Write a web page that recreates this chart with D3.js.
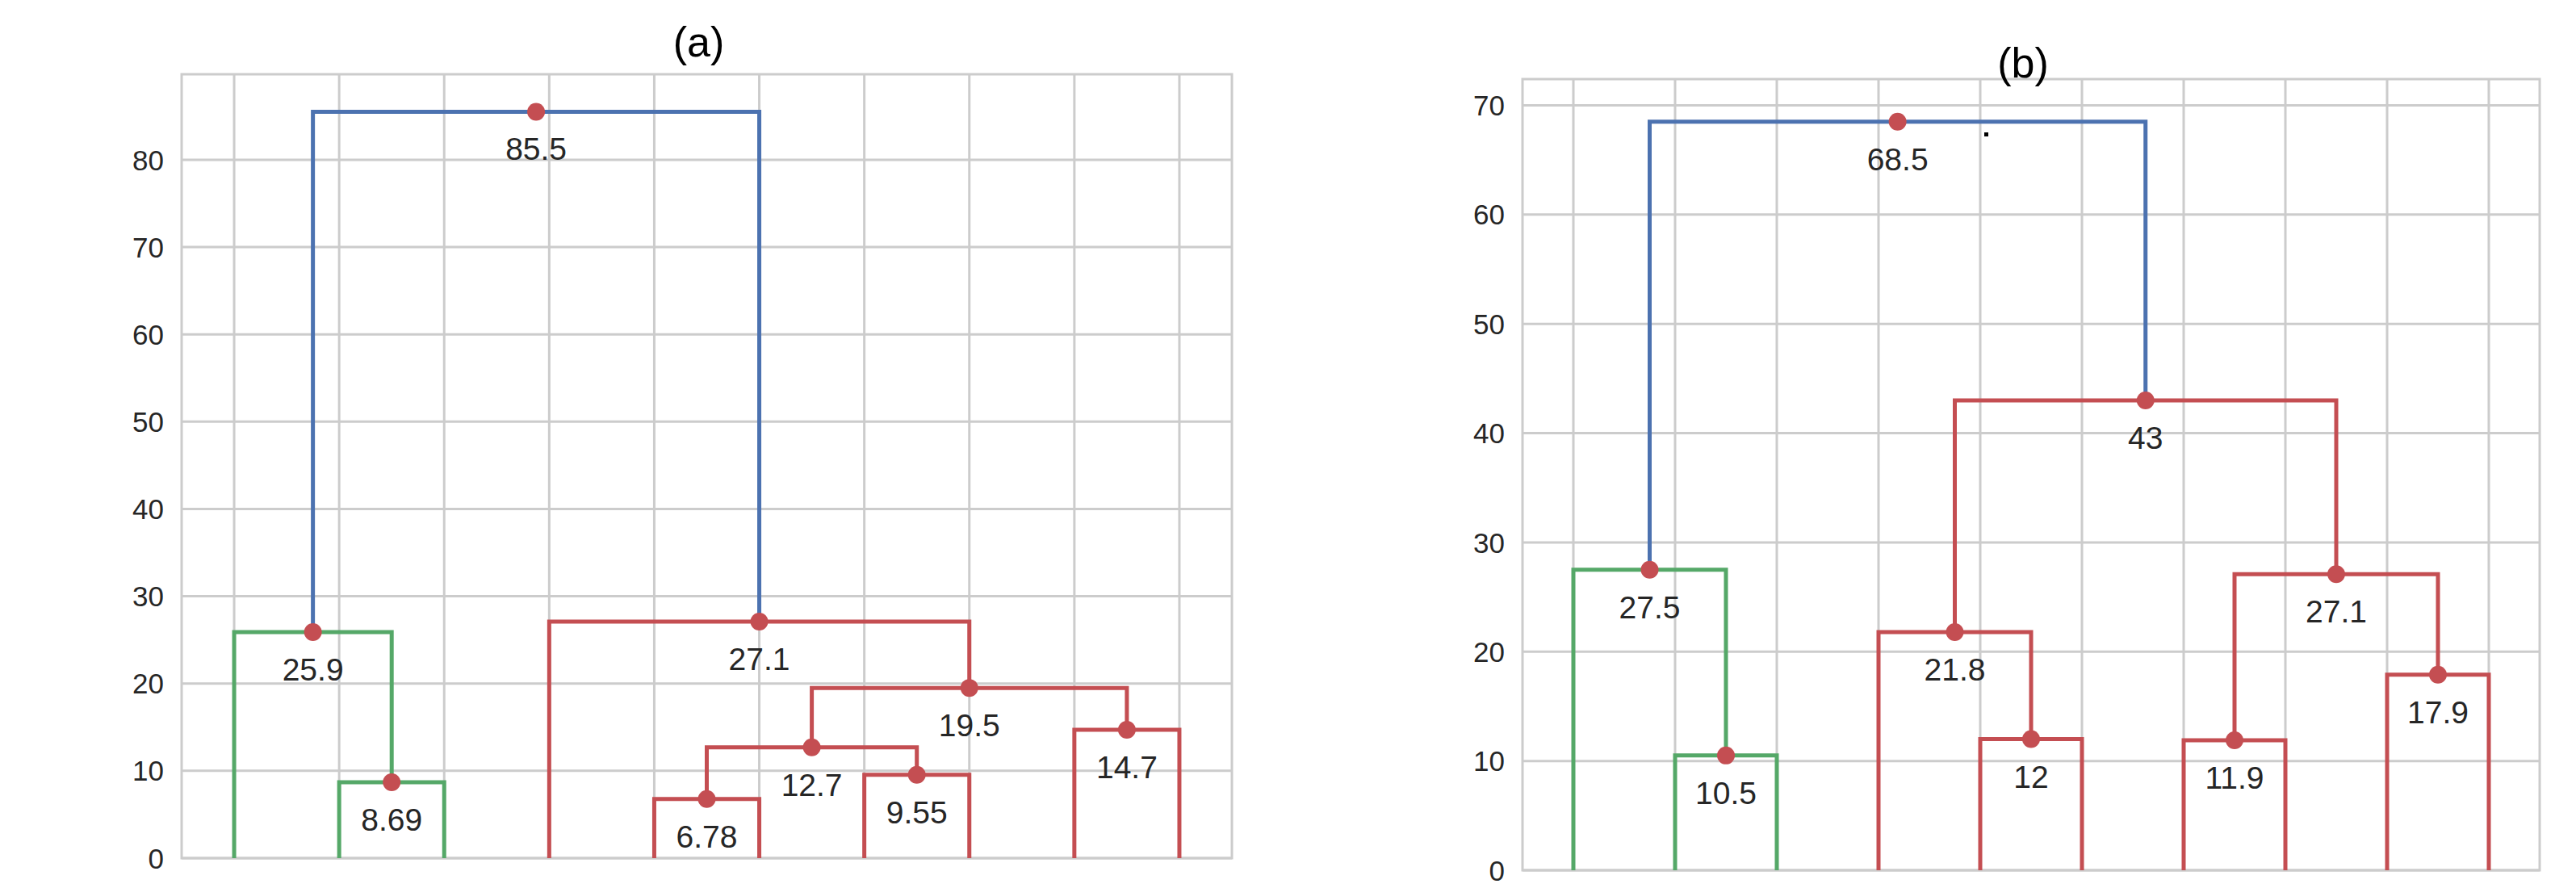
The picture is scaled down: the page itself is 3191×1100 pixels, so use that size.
<!DOCTYPE html>
<html><head><meta charset="utf-8">
<script src="https://cdn.jsdelivr.net/npm/d3@7"></script>
<style>body{margin:0;background:#fff}</style>
</head><body>
<script>
// leaves 0..9, merges are [childA, childB], nodes numbered from 10
const mergesA = [[1,2],[0,10],[4,5],[6,7],[12,13],[8,9],[14,15],[3,16],[11,17]];
const heightsA = [8.69,25.9,6.78,9.55,12.7,14.7,19.5,27.1,85.5];
const colorsA = ["g","g","r","r","r","r","r","r","b"];
const ticksA = [0,10,20,30,40,50,60,70,80];

const mergesB = [[1,2],[0,10],[4,5],[3,12],[6,7],[8,9],[14,15],[13,16],[11,17]];
const heightsB = [10.5,27.5,12,21.8,11.9,17.9,27.1,43,68.5];
const colorsB = ["g","g","r","r","r","r","r","r","b"];
const ticksB = [0,10,20,30,40,50,60,70];

const palette = {b:"#4c72b0", g:"#55a868", r:"#c44e52"};
const W = 3191, H = 1100;

const svg = d3.select("body").append("svg").attr("width",W).attr("height",H)
  .style("font-family","'Liberation Sans', Arial, sans-serif");

function panel(cfg){
  const g = svg.append("g");
  const x = d3.scaleLinear().domain([0,100]).range([cfg.left,cfg.right]);
  const y = d3.scaleLinear().domain([0,cfg.ymax]).range([cfg.bottom,cfg.top]);
  const leaves = d3.range(10).map(i => 5 + 10*i);

  // grid
  g.selectAll(".vg").data(leaves).join("line")
    .attr("x1",d=>x(d)).attr("x2",d=>x(d)).attr("y1",cfg.top).attr("y2",cfg.bottom)
    .attr("stroke","#cccccc").attr("stroke-width",3);
  g.selectAll(".hg").data(cfg.ticks).join("line")
    .attr("x1",cfg.left).attr("x2",cfg.right).attr("y1",d=>y(d)).attr("y2",d=>y(d))
    .attr("stroke","#cccccc").attr("stroke-width",3);
  g.append("rect").attr("x",cfg.left).attr("y",cfg.top)
    .attr("width",cfg.right-cfg.left).attr("height",cfg.bottom-cfg.top)
    .attr("fill","none").attr("stroke","#cccccc").attr("stroke-width",3);
  g.selectAll(".tl").data(cfg.ticks).join("text")
    .attr("x",cfg.left-22).attr("y",d=>y(d)).attr("dy","0.36em")
    .attr("text-anchor","end").attr("font-size",35).attr("fill","#262626").text(d=>d);

  g.append("text").attr("x",(cfg.left+cfg.right)/2 - 10).attr("y",cfg.titleY)
    .attr("text-anchor","middle").attr("font-size",52).attr("fill","#000").text(cfg.title);

  // node positions
  const nx = leaves.slice(), ny = leaves.map(()=>0);
  cfg.merges.forEach(([a,b],i) => {
    nx.push((nx[a]+nx[b])/2); ny.push(cfg.heights[i]);
  });
  cfg.merges.forEach(([a,b],i) => {
    const h = cfg.heights[i];
    const pts = [[nx[a],ny[a]],[nx[a],h],[nx[b],h],[nx[b],ny[b]]];
    g.append("path")
      .attr("d", d3.line().x(d=>x(d[0])).y(d=>y(d[1]))(pts))
      .attr("fill","none").attr("stroke",palette[cfg.colors[i]]).attr("stroke-width",5);
  });
  cfg.merges.forEach((m,i) => {
    const cx = x(nx[10+i]), cy = y(cfg.heights[i]);
    g.append("circle").attr("cx",cx).attr("cy",cy).attr("r",11).attr("fill","#c44e52");
    g.append("text").attr("x",cx).attr("y",cy+60).attr("text-anchor","middle")
      .attr("font-size",39).attr("fill","#262626").text(cfg.heights[i]);
  });
  return {x,y};
}

panel({left:225,right:1526,top:92,bottom:1063,ymax:89.8,ticks:ticksA,
  merges:mergesA,heights:heightsA,colors:colorsA,title:"(a)",titleY:70});
panel({left:1886,right:3146,top:98,bottom:1078,ymax:72.4,ticks:ticksB,
  merges:mergesB,heights:heightsB,colors:colorsB,title:"(b)",titleY:96});
svg.append("rect").attr("x",2458).attr("y",164).attr("width",5).attr("height",5).attr("fill","#000");
</script>
</body></html>
